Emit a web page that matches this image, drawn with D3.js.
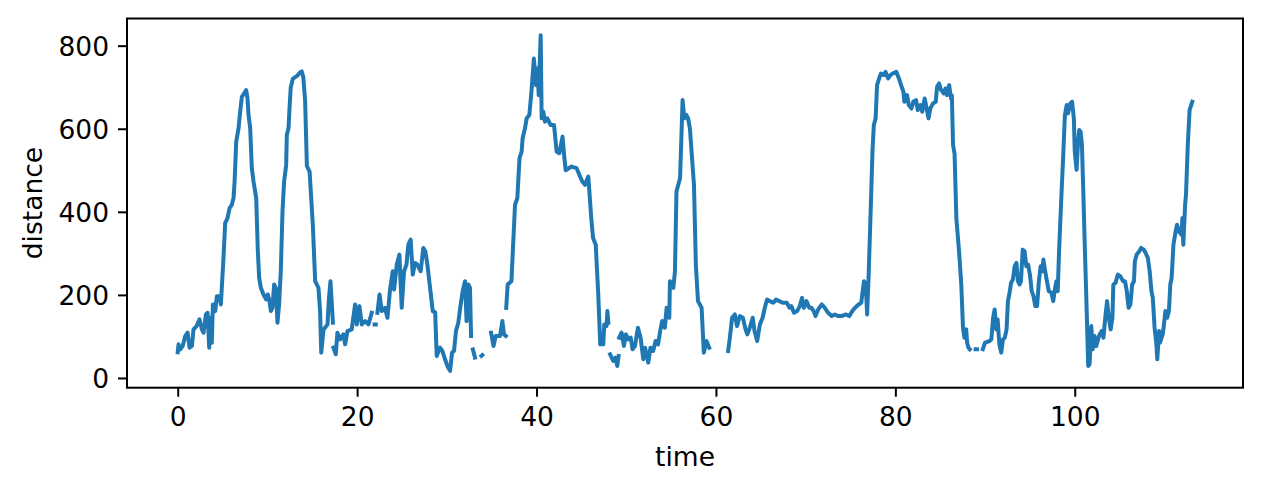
<!DOCTYPE html>
<html>
<head>
<meta charset="utf-8">
<script src="https://cdn.jsdelivr.net/npm/d3@7"></script>
<style>
  body { margin: 0; background: #fff; }
  svg { display: block; font-family: "DejaVu Sans", sans-serif; }
</style>
</head>
<body>
<div id="chart"></div>
<script>
// time (s) and distance readings; null marks a gap in the trace
const times = [
  0.0, 0.09, 0.28, 0.55, 0.84, 1.1, 1.32, 1.58, 1.76, 2.1, 2.43, 2.69, 2.88, 3.14, 3.33, 3.51, 3.62, 3.8, 3.92, 4.18,
  4.36, 4.66, 4.81, 5.1, 5.29, 5.55, 5.78, 6.03, 6.22, 6.34, 6.52, 6.78, 6.96, 7.15, 7.4, 7.63, 7.78, 7.89, 8.08, 8.26,
  8.45, 8.75, 8.93, 9.08, 9.27, 9.56, 9.86, 10.05, 10.23, 10.38, 10.56, 10.75, 10.94, 11.12, 11.3, 11.49, 11.68, 11.86, 12.09, 12.16,
  12.35, 12.46, 12.6, 12.83, 13.09, 13.35, 13.65, 13.83, 14.0, 14.2, 14.4, 14.7, 15.06, 15.32, 15.69, 15.87, 16.0, 16.25, 16.7, 16.85,
  17.03, 17.3, 17.33, 17.36, 17.62, 17.8, 18.1, 18.47, 18.66, 18.92, 19.4, 19.77, 19.96, 20.25, 20.52, 20.89, 21.26, 21.63, 21.8, 21.95,
  22.08, 22.17, 22.26, 22.5, 22.74, 23.1, 23.38, 23.67, 23.97, 24.12, 24.42, 24.71, 24.97, 25.23, 25.5, 25.71, 25.97, 26.2, 26.46, 26.71,
  27.08, 27.38, 27.6, 27.83, 28.13, 28.43, 28.7, 28.87, 29.24, 29.5, 29.8, 30.06, 30.36, 30.58, 30.8, 31.02, 31.28, 31.54, 31.77, 32.03,
  32.2, 32.4, 32.58, 32.7, 32.8, 32.9, 33.14, 33.5, 33.85, 33.95, 34.4, 34.93, 35.2, 35.44, 35.93, 36.19, 36.37, 36.58, 36.6, 36.62,
  36.78, 37.2, 37.6, 37.86, 38.1, 38.34, 38.45, 38.71, 38.9, 39.2, 39.46, 39.7, 39.95, 40.1, 40.24, 40.46, 40.57, 40.75, 40.94, 41.2,
  41.57, 41.95, 42.24, 42.54, 42.9, 43.1, 43.25, 43.9, 44.47, 44.77, 45.1, 45.4, 45.77, 46.1, 46.3, 46.6, 46.88, 47.1, 47.44, 47.55,
  47.8, 47.9, 48.0, 48.1, 48.2, 48.55, 48.8, 49.0, 49.15, 49.18, 49.22, 49.48, 49.74, 49.97, 50.2, 50.5, 50.7, 50.97, 51.3, 51.6,
  51.9, 52.1, 52.45, 52.7, 53.0, 53.27, 53.55, 53.75, 54.0, 54.3, 54.5, 54.8, 54.87, 55.05, 55.25, 55.43, 55.6, 55.8, 56.0, 56.28,
  56.47, 56.7, 56.9, 57.1, 57.3, 57.55, 57.76, 58.0, 58.4, 58.65, 58.95, 59.25, 60.3, 61.36, 61.55, 61.8, 62.1, 62.35, 62.66, 63.0,
  63.3, 63.5, 63.77, 64.1, 64.3, 64.6, 64.9, 65.2, 65.45, 65.7, 66.0, 66.4, 66.7, 67.05, 67.5, 67.9, 68.2, 68.4, 68.7, 69.05,
  69.35, 69.6, 69.8, 70.1, 70.4, 70.65, 70.9, 71.1, 71.4, 71.8, 72.13, 72.5, 72.9, 73.25, 73.6, 74.0, 74.5, 74.85, 75.2, 75.5,
  75.9, 76.2, 76.5, 76.7, 76.85, 77.0, 77.2, 77.45, 77.6, 77.8, 77.96, 78.25, 78.4, 78.7, 78.9, 79.2, 79.45, 79.7, 80.1, 80.4,
  80.7, 80.9, 81.0, 81.3, 81.5, 81.8, 82.0, 82.3, 82.5, 82.8, 83.0, 83.27, 83.45, 83.7, 83.9, 84.2, 84.5, 84.65, 84.87, 85.1,
  85.4, 85.6, 85.75, 86.0, 86.2, 86.3, 86.43, 86.6, 86.8, 87.1, 87.35, 87.54, 87.7, 87.9, 88.0, 88.15, 88.3, 88.6, 88.95, 89.1,
  89.4, 89.75, 90.0, 90.5, 90.7, 90.9, 91.07, 91.25, 91.4, 91.6, 91.8, 92.0, 92.2, 92.4, 92.55, 92.7, 92.9, 93.1, 93.3, 93.5,
  93.66, 93.85, 94.0, 94.2, 94.4, 94.6, 94.8, 95.0, 95.2, 95.4, 95.6, 95.8, 96.0, 96.2, 96.4, 96.5, 96.7, 96.9, 97.1, 97.4,
  97.6, 97.75, 97.95, 98.1, 98.25, 98.5, 98.7, 98.9, 99.1, 99.25, 99.5, 99.7, 99.9, 100.0, 100.2, 100.36, 100.5, 100.65, 100.8, 100.95,
  101.1, 101.3, 101.5, 101.65, 101.84, 102.0, 102.2, 102.4, 102.7, 103.0, 103.2, 103.4, 103.6, 103.8, 104.0, 104.2, 104.3, 104.55, 104.8, 105.07,
  105.4, 105.6, 105.8, 106.0, 106.2, 106.4, 106.6, 106.7, 106.9, 107.2, 107.4, 107.7, 107.9, 108.15, 108.35, 108.55, 108.7, 108.9, 109.1, 109.2,
  109.4, 109.5, 109.8, 109.9, 110.1, 110.3, 110.5, 110.65, 110.8, 111.0, 111.25, 111.4, 111.6, 111.9, 112.0, 112.1, 112.3, 112.4, 112.6, 112.8,
  113.1
];
const distances = [
  62, 81, 69, 77, 101, 109, 73, 77, 117, 125, 141, 117, 109, 153, 157, 73, 145, 85, 177, 161,
  197, 197, 177, 289, 373, 385, 409, 417, 433, 473, 569, 601, 641, 677, 685, 693, 673, 633, 601, 505,
  473, 433, 305, 241, 217, 201, 189, 201, 185, 161, 169, 225, 217, 133, 177, 257, 401, 473, 513, 585,
  601, 649, 700, 720, 724, 728, 736, 738, 724, 668, 510, 497, 369, 233, 217, 161, 61, 116, 129, 190,
  233, 133, null, 73, 57, 109, 93, 105, 81, 113, 117, 177, 129, 173, 129, 137, 129, 157, null, 129,
  129, null, 157, 201, 161, 169, 145, 213, 257, 213, 273, 297, 169, 257, 273, 321, 333, 249, 277, 273,
  257, 313, 305, 273, 217, 161, 158, 53, 73, 65, 45, 29, 17, 61, 65, 113, 133, 177, 209, 233,
  137, 225, 217, 101, null, 69, 49, null, 53, 55, null, 109, 77, 101, 101, 137, 105, 101, null, 169,
  225, 233, 417, 433, 529, 545, 577, 601, 625, 633, 697, 769, 705, 745, 681, 825, 625, 641, 617, 625,
  609, 609, 545, 541, 581, 530, 500, 509, 505, 489, 473, 465, 485, 385, 337, 321, 201, 81, 81, 129,
  125, 161, 133, null, 57, 41, 49, 29, 53, null, 97, 109, 77, 105, 93, 97, 69, 77, 121, 97,
  45, 73, 37, 73, 65, 89, 81, 109, 137, 121, 169, 145, 233, 225, 217, 257, 449, 465, 481, 669,
  625, 633, 625, 600, 540, 465, 273, 185, 169, 61, 89, 73, null, 65, 97, 145, 153, 125, 149, 145,
  117, 105, 121, 145, 113, 89, 129, 145, 169, 189, 185, 181, 189, 185, 181, 181, 169, 173, 157, 161,
  173, 193, 169, 185, 169, 169, 161, 149, 165, 177, 169, 157, 149, 153, 149, 149, 153, 149, 161, 169,
  177, 181, 233, 225, 153, 233, 369, 545, 609, 625, 705, 725, 733, 729, 737, 721, 729, 733, 737, 721,
  701, 689, 665, 681, 657, 649, 665, 669, 645, 657, 641, 673, 653, 625, 649, 661, 665, 701, 709, 693,
  685, 697, 681, 705, 673, 680, 561, 540, 385, 305, 225, 121, 97, 117, 85, 73, 69, null, 69, 69,
  null, 69, 85, 89, 93, 145, 165, 117, 141, 81, 61, 93, 97, 117, 185, 201, 229, 237, 269, 277,
  233, 225, 233, 309, 305, 269, 273, 249, 209, 197, 173, 173, 233, 269, 257, 285, 257, 233, 209, 205,
  185, 209, 233, 209, 305, 433, 529, 633, 657, 637, 661, 665, 625, 545, 501, 565, 597, 593, 561, 450,
  330, 185, 29, 33, 125, 69, 101, 77, 101, 113, 97, 145, 185, 145, 117, 145, 225, 229, 249, 245,
  233, 233, 209, 169, 177, 225, 233, 281, 297, 305, 313, 309, 301, 289, 257, 209, 193, 121, 81, 45,
  113, 85, 105, 121, 161, 145, 161, 225, 241, 321, 353, 369, 353, 345, 385, 321, 417, 441, 561, 645,
  665
];
const xTicks = [0, 20, 40, 60, 80, 100];
const yTicks = [0, 200, 400, 600, 800];
const xLabel = "time";
const yLabel = "distance";

const width = 1262, height = 491;
const margin = { left: 127, right: 19, top: 18.5, bottom: 103.3 };
const innerW = width - margin.left - margin.right;
const innerH = height - margin.top - margin.bottom;
const fontSize = "26.5px";

const points = times.map((t, i) => ({ t, d: distances[i] }));

// matplotlib-style 5% padding around the data extent
const pad = ([lo, hi]) => [lo - (hi - lo) * 0.05, hi + (hi - lo) * 0.05];
const x = d3.scaleLinear()
  .domain(pad(d3.extent(times)))
  .range([0, innerW]);
const y = d3.scaleLinear()
  .domain(pad(d3.extent(distances.filter(v => v != null))))
  .range([innerH, 0]);

const svg = d3.select("#chart")
  .append("svg")
  .attr("width", width)
  .attr("height", height);

svg.append("rect")
  .attr("width", width)
  .attr("height", height)
  .attr("fill", "#fff");

const g = svg.append("g")
  .attr("transform", `translate(${margin.left},${margin.top})`);

const clip = svg.append("clipPath").attr("id", "plot-clip");
clip.append("rect").attr("width", innerW).attr("height", innerH);

const line = d3.line()
  .defined(p => p.d != null)
  .x(p => x(p.t))
  .y(p => y(p.d));

g.append("path")
  .datum(points)
  .attr("clip-path", "url(#plot-clip)")
  .attr("fill", "none")
  .attr("stroke", "#1f77b4")
  .attr("stroke-width", 4)
  .attr("stroke-linejoin", "round")
  .attr("stroke-linecap", "square")
  .attr("d", line);

// axes
const xAxis = g.append("g")
  .attr("transform", `translate(0,${innerH})`)
  .call(d3.axisBottom(x).tickValues(xTicks).tickSizeOuter(0).tickSize(9).tickPadding(9));
const yAxis = g.append("g")
  .call(d3.axisLeft(y).tickValues(yTicks).tickSizeOuter(0).tickSize(9).tickPadding(9));

[xAxis, yAxis].forEach(ax => {
  ax.select(".domain").remove();
  ax.selectAll(".tick line").attr("stroke", "#000").attr("stroke-width", 2);
  ax.selectAll(".tick text")
    .attr("fill", "#000")
    .style("font-family", "'DejaVu Sans', sans-serif")
    .style("font-size", fontSize);
});
xAxis.selectAll(".tick text").attr("dy", "0.76em");
yAxis.selectAll(".tick text").attr("dy", "0.36em");

// frame
g.append("rect")
  .attr("width", innerW)
  .attr("height", innerH)
  .attr("fill", "none")
  .attr("stroke", "#000")
  .attr("stroke-width", 2);

svg.append("text")
  .attr("x", margin.left + innerW / 2)
  .attr("y", 466)
  .attr("text-anchor", "middle")
  .style("font-size", fontSize)
  .text(xLabel);

svg.append("text")
  .attr("transform", `translate(42,${margin.top + innerH / 2}) rotate(-90)`)
  .attr("text-anchor", "middle")
  .style("font-size", fontSize)
  .text(yLabel);
</script>
</body>
</html>
